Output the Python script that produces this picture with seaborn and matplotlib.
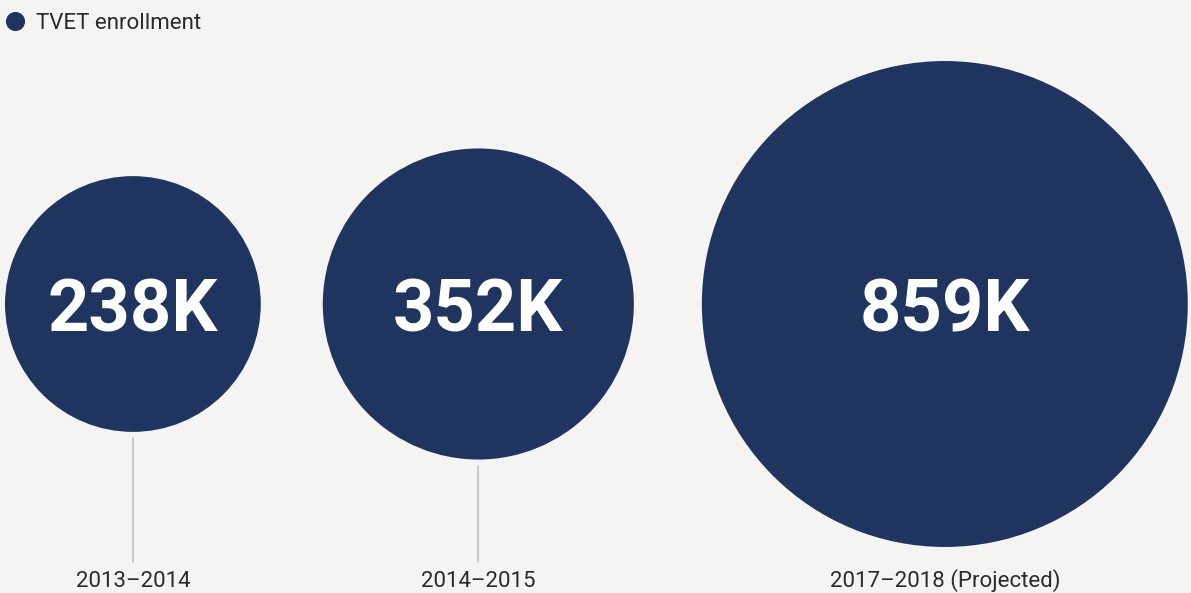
import numpy as np
import pandas as pd
import matplotlib.pyplot as plt
import seaborn as sns

# data
periods = ["2013–2014", "2014–2015", "2017–2018 (Projected)"]
enrollment = [238, 352, 859]          # thousands
value_labels = ["238K", "352K", "859K"]

navy = "#1f3560"
bg = "#f5f4f2"

sns.set_theme(style="white")
plt.rcParams['font.family'] = ['Roboto', 'DejaVu Sans']

W, H = 1191, 593
fig = plt.figure(figsize=(W / 100, H / 100), dpi=100, facecolor=bg)
ax = fig.add_axes([0, 0, 1, 1])
ax.set_facecolor(bg)
ax.set_xlim(0, W)
ax.set_ylim(H, 0)
ax.axis('off')

# circle area proportional to enrollment; k = px of radius per sqrt(K)
k = 8.29
radii = k * np.sqrt(enrollment)
gaps = [62, 68, 0]
xs = []
x = 5
for r, g in zip(radii, gaps):
    xs.append(x + r)
    x += 2 * r + g
cy = 304

df = pd.DataFrame({"period": periods, "enrollment": enrollment,
                   "x": xs, "y": [cy] * len(periods)})

# marker size in pt^2 (diameter in points squared), linear in value
smax = (2 * k * np.sqrt(max(enrollment)) * 72 / 100) ** 2
sns.scatterplot(data=df, x="x", y="y", size="enrollment",
                sizes=(0, smax), size_norm=(0, max(enrollment)),
                color=navy, linewidth=0, legend=False, ax=ax)

line_end = 562
for xi, r, lab, per in zip(xs, radii, value_labels, periods):
    ax.text(xi, 331, lab, color="white", fontsize=52, fontweight="bold",
            ha="center", va="baseline")
    top = cy + r + 6
    if line_end - top > 15:
        ax.plot([xi, xi], [top, line_end], color="#c4c4c4", lw=1.3)
    ax.text(xi, 587, per, color="#2b2b2b", fontsize=16,
            ha="center", va="baseline")

# legend
ax.scatter([15], [21], s=190, color=navy, linewidth=0)
ax.text(36, 29, "TVET enrollment", color="#2b2b2b", fontsize=16,
        ha="left", va="baseline")

fig.savefig("out.png", dpi=100, facecolor=bg)
